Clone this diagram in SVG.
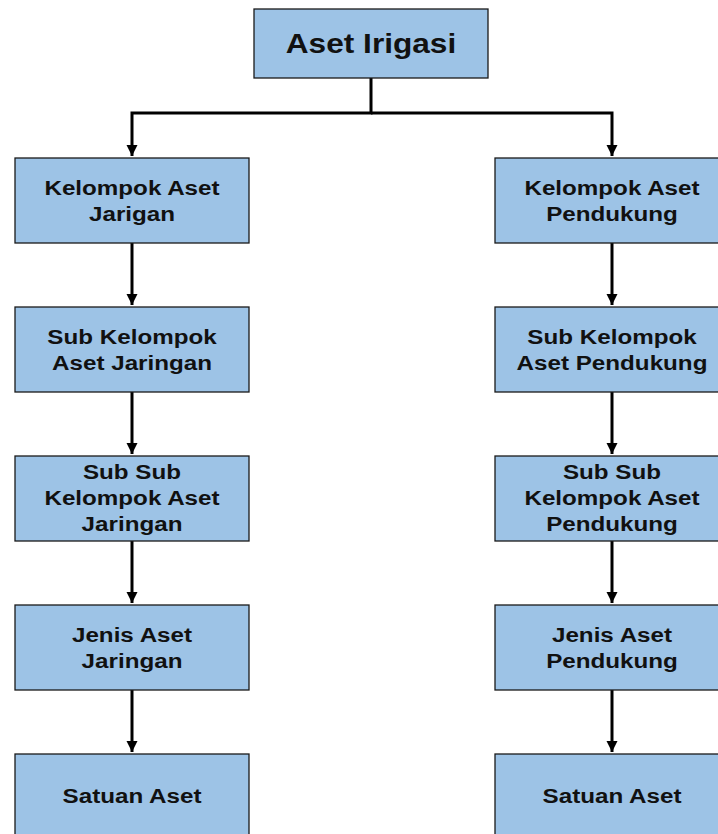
<svg xmlns="http://www.w3.org/2000/svg" width="718" height="834" viewBox="0 0 718 834">
<style>
.box{fill:#9dc3e6;stroke:#1a1a1a;stroke-width:1.3}
.t{font-family:"Liberation Sans",Arial,sans-serif;font-weight:bold;font-size:20px;fill:#111;text-anchor:middle}
.tt{font-size:28px}
.c{fill:none;stroke:#000;stroke-width:3}
</style>
<defs>
<marker id="ah" markerUnits="userSpaceOnUse" markerWidth="12" markerHeight="12" viewBox="0 0 12 12" refX="11" refY="6" orient="auto">
<path d="M0,0.5 L11,6 L0,11.5 Z" fill="#000"/>
</marker>
</defs>
<rect width="718" height="834" fill="#fff"/>
<g id="connectors">
<path class="c" d="M371,78 V113 H132 V156" marker-end="url(#ah)"/>
<path class="c" d="M371,113 H612 V156" marker-end="url(#ah)"/>
<path class="c" d="M132,243 V305" marker-end="url(#ah)"/>
<path class="c" d="M132,392 V454" marker-end="url(#ah)"/>
<path class="c" d="M132,541 V603" marker-end="url(#ah)"/>
<path class="c" d="M132,690 V752" marker-end="url(#ah)"/>
<path class="c" d="M612,243 V305" marker-end="url(#ah)"/>
<path class="c" d="M612,392 V454" marker-end="url(#ah)"/>
<path class="c" d="M612,541 V603" marker-end="url(#ah)"/>
<path class="c" d="M612,690 V752" marker-end="url(#ah)"/>
</g>
<g id="n0"><rect class="box" x="254" y="9" width="234" height="69"/>
<text class="t tt" transform="translate(371,52.5) scale(1.13,1)">Aset Irigasi</text></g>

<g id="l1"><rect class="box" x="15" y="158" width="234" height="85"/>
<g transform="translate(132,0) scale(1.21,1)"><text class="t" x="0" y="195.5">Kelompok Aset</text><text class="t" x="0" y="221.5">Jarigan</text></g></g>
<g id="l2"><rect class="box" x="15" y="307" width="234" height="85"/>
<g transform="translate(132,0) scale(1.21,1)"><text class="t" x="0" y="344.5">Sub Kelompok</text><text class="t" x="0" y="370.5">Aset Jaringan</text></g></g>
<g id="l3"><rect class="box" x="15" y="456" width="234" height="85"/>
<g transform="translate(132,0) scale(1.21,1)"><text class="t" x="0" y="479">Sub Sub</text><text class="t" x="0" y="505">Kelompok Aset</text><text class="t" x="0" y="531">Jaringan</text></g></g>
<g id="l4"><rect class="box" x="15" y="605" width="234" height="85"/>
<g transform="translate(132,0) scale(1.21,1)"><text class="t" x="0" y="642.5">Jenis Aset</text><text class="t" x="0" y="668.5">Jaringan</text></g></g>
<g id="l5"><rect class="box" x="15" y="754" width="234" height="85"/>
<g transform="translate(132,0) scale(1.21,1)"><text class="t" x="0" y="803.5">Satuan Aset</text></g></g>

<g id="r1"><rect class="box" x="495" y="158" width="234" height="85"/>
<g transform="translate(612,0) scale(1.21,1)"><text class="t" x="0" y="195.5">Kelompok Aset</text><text class="t" x="0" y="221.5">Pendukung</text></g></g>
<g id="r2"><rect class="box" x="495" y="307" width="234" height="85"/>
<g transform="translate(612,0) scale(1.21,1)"><text class="t" x="0" y="344.5">Sub Kelompok</text><text class="t" x="0" y="370.5">Aset Pendukung</text></g></g>
<g id="r3"><rect class="box" x="495" y="456" width="234" height="85"/>
<g transform="translate(612,0) scale(1.21,1)"><text class="t" x="0" y="479">Sub Sub</text><text class="t" x="0" y="505">Kelompok Aset</text><text class="t" x="0" y="531">Pendukung</text></g></g>
<g id="r4"><rect class="box" x="495" y="605" width="234" height="85"/>
<g transform="translate(612,0) scale(1.21,1)"><text class="t" x="0" y="642.5">Jenis Aset</text><text class="t" x="0" y="668.5">Pendukung</text></g></g>
<g id="r5"><rect class="box" x="495" y="754" width="234" height="85"/>
<g transform="translate(612,0) scale(1.21,1)"><text class="t" x="0" y="803.5">Satuan Aset</text></g></g>
</svg>
